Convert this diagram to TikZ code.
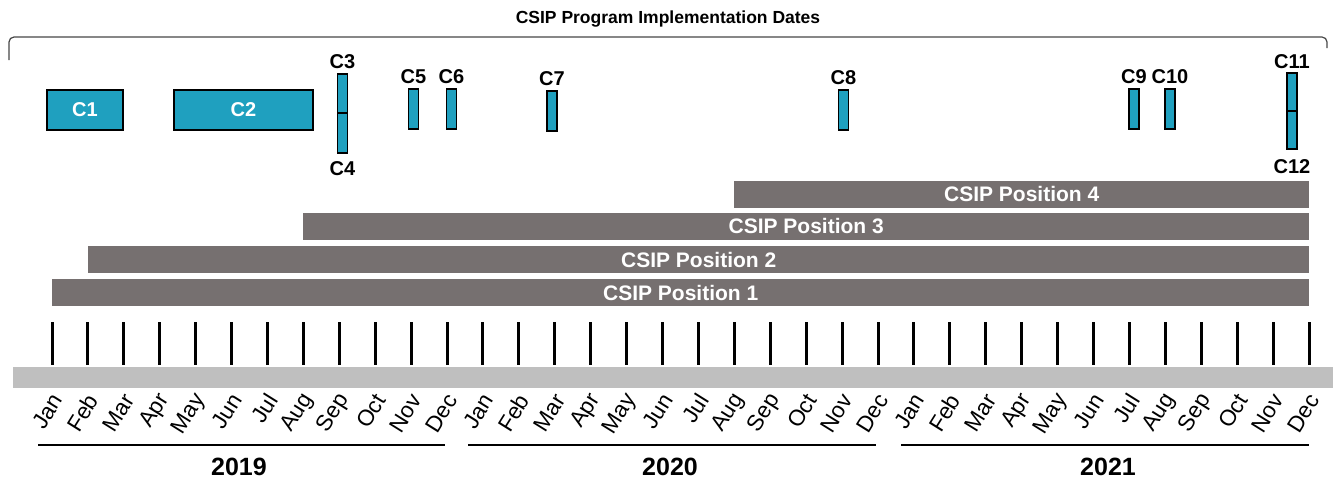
\documentclass[tikz,border=0pt]{standalone}
\usepackage{fontspec}
\setmainfont{Liberation Sans}
\usetikzlibrary{positioning}
\definecolor{csipteal}{RGB}{31,160,191}
\definecolor{posgray}{RGB}{118,112,112}
\definecolor{axisgray}{RGB}{191,191,191}
\definecolor{bracketgray}{RGB}{70,70,70}
\begin{document}
\begin{tikzpicture}[x=1pt,y=-1pt,
  cbox/.style={draw=black, line width=1.4pt, fill=csipteal, inner sep=0pt,
    text=white, font=\fontsize{20}{20}\selectfont\bfseries},
  clabel/.style={inner sep=0pt, font=\fontsize{20}{20}\selectfont\bfseries},
  posbar/.style={fill=posgray, inner sep=0pt, minimum height=27pt, anchor=west,
    text=white, font=\fontsize{21}{21}\selectfont\bfseries},
  monthtick/.style={line width=3pt, black},
  monthlabel/.style={rotate=58, anchor=east, inner sep=0pt,
    font=\fontsize{22.5}{22.5}\selectfont},
  yearline/.style={line width=2.5pt, black},
  yearlabel/.style={inner sep=0pt, font=\fontsize{25}{25}\selectfont\bfseries}]
\useasboundingbox (0,0) rectangle (1333,479);

% title and bracket
\node[inner sep=0pt, font=\fontsize{17.5}{17.5}\selectfont\bfseries] (title) at (668,19)
  {CSIP Program Implementation Dates};
\draw[bracketgray, line width=1.2pt, rounded corners=5pt]
  (9,60) -- (9,37) -- (1327,37) -- (1327,48);

% component boxes
\node[cbox, minimum width=76pt, minimum height=40pt] (c1) at (85,110) {C1};
\node[cbox, minimum width=139pt, minimum height=40pt] (c2) at (243.5,110) {C2};
\node[cbox, minimum width=10pt, minimum height=39pt] (c3) at (342.5,93.5) {};
\node[cbox, minimum width=10pt, minimum height=40pt] (c4) at (342.5,133) {};
\node[cbox, minimum width=10pt, minimum height=40pt] (c5) at (413.5,109) {};
\node[cbox, minimum width=10pt, minimum height=40pt] (c6) at (451.5,109) {};
\node[cbox, minimum width=10pt, minimum height=40pt] (c7) at (552,111) {};
\node[cbox, minimum width=10pt, minimum height=40pt] (c8) at (843.5,110) {};
\node[cbox, minimum width=10pt, minimum height=40pt] (c9) at (1134,109) {};
\node[cbox, minimum width=10pt, minimum height=40pt] (c10) at (1170,109) {};
\node[cbox, minimum width=10pt, minimum height=38pt] (c11) at (1292,92) {};
\node[cbox, minimum width=10pt, minimum height=38pt] (c12) at (1292,130) {};

\node[clabel, above=4pt of c3] (l3) {C3};
\node[clabel, below=8pt of c4] (l4) {C4};
\node[clabel, above=4pt of c5] (l5) {C5};
\node[clabel, above=4pt of c6] (l6) {C6};
\node[clabel, above=4pt of c7] (l7) {C7};
\node[clabel, above=4pt of c8] (l8) {C8};
\node[clabel, above=4pt of c9] (l9) {C9};
\node[clabel, above=4pt of c10] (l10) {C10};
\node[clabel, above=3pt of c11] (l11) {C11};
\node[clabel, below=10pt of c12] (l12) {C12};

% staffing positions
\node[posbar, minimum width=575pt] (p4) at (734,194) {CSIP Position 4};
\node[posbar, minimum width=1006pt] (p3) at (303,226.5) {CSIP Position 3};
\node[posbar, minimum width=1221pt] (p2) at (88,259.5) {CSIP Position 2};
\node[posbar, minimum width=1257pt] (p1) at (52,292.5) {CSIP Position 1};

% time axis
\fill[axisgray] (13,367) rectangle (1333,388);
\foreach \yr [count=\yi from 0] in {2019,2020,2021}{
  \foreach \m [count=\mi from 0] in {Jan,Feb,Mar,Apr,May,Jun,Jul,Aug,Sep,Oct,Nov,Dec}{
    \pgfmathsetmacro\xx{52+(\yi*12+\mi)*35.914}
    \draw[monthtick] (\xx,322) -- (\xx,365);
    \node[monthlabel] (m\yr-\mi) at (\xx+5,396) {\m};
  }
}

% years
\draw[yearline] (38,445) -- (445,445);
\draw[yearline] (468,445) -- (876,445);
\draw[yearline] (901,445) -- (1309,445);
\node[yearlabel] (y2019) at (239,467) {2019};
\node[yearlabel] (y2020) at (670,467) {2020};
\node[yearlabel] (y2021) at (1108,467) {2021};
\end{tikzpicture}
\end{document}
